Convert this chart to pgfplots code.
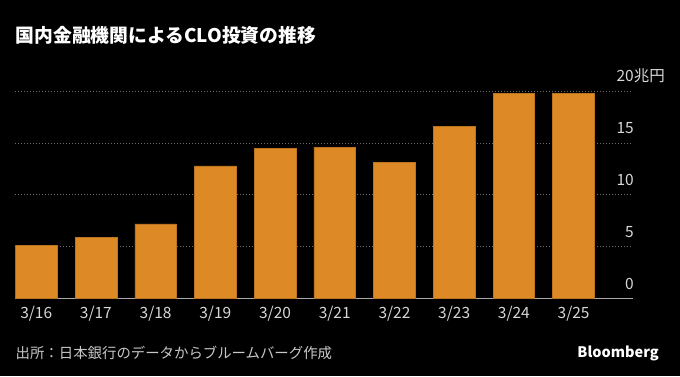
\documentclass[border=0pt]{standalone}
\usepackage{pgfplots}
\pgfplotsset{compat=1.18}
\usepackage{fontspec}
\setmainfont{Noto Sans CJK JP}
\definecolor{barorange}{RGB}{221,137,38}
\definecolor{gridgray}{RGB}{110,110,110}
\definecolor{basegray}{RGB}{170,170,170}
\definecolor{ticktext}{RGB}{215,215,215}
\definecolor{foottext}{RGB}{200,200,200}
\begin{document}
\begin{tikzpicture}[x=1bp,y=1bp]
\fill[black] (0,0) rectangle (680,376);
\node[anchor=west, inner sep=0pt, text=white, font=\fontsize{18.8bp}{22bp}\selectfont\bfseries] at (15.5,341) {国内金融機関によるCLO投資の推移};
\node[anchor=west, inner sep=0pt, text=foottext, font=\fontsize{14.4bp}{16bp}\selectfont] at (15.5,23) {出所：日本銀行のデータからブルームバーグ作成};
\node[anchor=east, inner sep=0pt, text=white, font=\fontsize{14.5bp}{16bp}\selectfont\bfseries] at (659,23) {Bloomberg};
\begin{axis}[
  at={(15.3bp,77.3bp)}, anchor=south west,
  scale only axis, width=617.4bp, height=207.7bp,
  xmin=-0.35, xmax=9.99, ymin=0, ymax=20,
  separate axis lines,
  axis x line*=bottom, axis y line*=right,
  x axis line style={draw=basegray, line width=1bp, -},
  y axis line style={draw=none},
  xtick=data,
  xticklabels={3/16,3/17,3/18,3/19,3/20,3/21,3/22,3/23,3/24,3/25},
  ytick={0,5,10,15,20},
  yticklabels={0,5,10,15,20\rlap{兆円}},
  major tick length=0pt,
  tick style={draw=none},
  xticklabel style={anchor=base, inner sep=0pt, yshift=-20bp, text=ticktext, font=\fontsize{15.5bp}{17bp}\selectfont},
  yticklabel style={anchor=base east, inner sep=0pt, xshift=1.3bp, yshift=9.4bp, text=ticktext, font=\fontsize{15.5bp}{17bp}\selectfont},
  ymajorgrids,
  grid style={draw=gridgray, line width=0.8bp, dash pattern=on 1bp off 2bp},
  ybar, bar width=41.7bp, bar shift=0pt,
  axis on top=false,
]
\addplot[fill=barorange, draw=barorange!85!black, line width=0.5bp] coordinates {
(0,5.1) (1,5.9) (2,7.2) (3,12.8) (4,14.5) (5,14.6) (6,13.1) (7,16.6) (8,19.75) (9,19.75)
};
\end{axis}
\end{tikzpicture}
\end{document}
